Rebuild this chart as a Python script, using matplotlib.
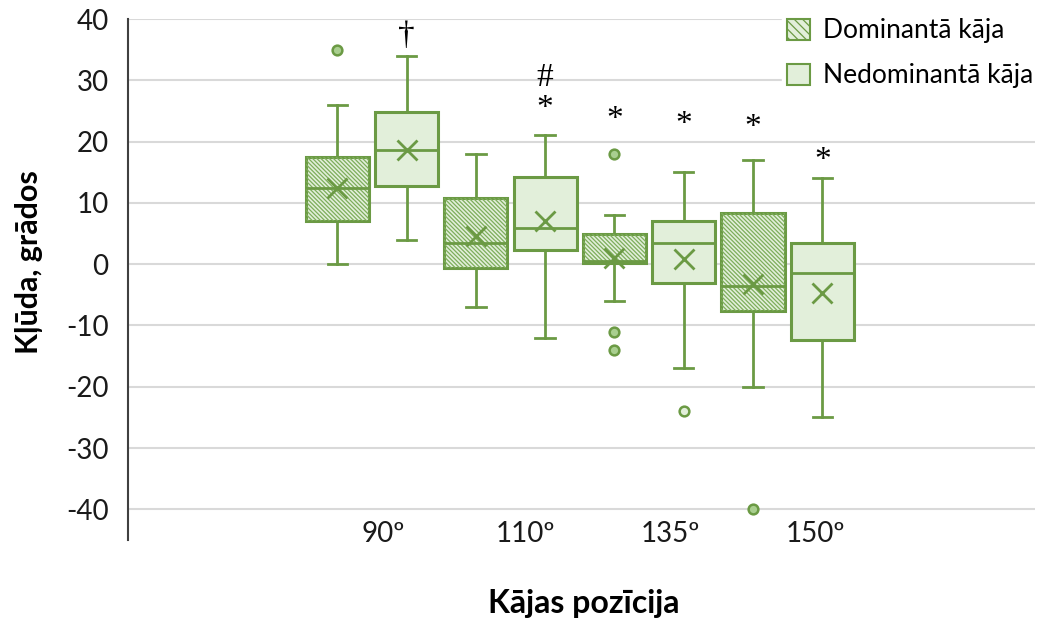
import matplotlib
matplotlib.use('Agg')
import matplotlib.pyplot as plt
from matplotlib.patches import Patch, PathPatch

plt.rcParams['font.family'] = ['Lato', 'DejaVu Sans']
plt.rcParams['hatch.linewidth'] = 0.9
plt.rcParams['axes.unicode_minus'] = False

# Data (degrees)
categories = ['90º', '110º', '135º', '150º']
series = ['Dominantā kāja', 'Nedominantā kāja']

dom_whislo = [0, -7, -6, -20]
dom_q1 = [7, -0.7, 0.2, -7.6]
dom_med = [12.5, 3.5, 0.5, -3.6]
dom_q3 = [17.5, 10.8, 5.0, 8.3]
dom_whishi = [26, 18, 8, 17]
dom_mean = [12.5, 4.6, 1.0, -3.2]
dom_fliers = [[35], [], [18, -11, -14], [-40]]

nd_whislo = [4, -12, -17, -25]
nd_q1 = [12.8, 2.3, -3.0, -12.4]
nd_med = [18.6, 5.9, 3.5, -1.5]
nd_q3 = [24.8, 14.2, 7.0, 3.5]
nd_whishi = [34, 21, 15, 14]
nd_mean = [18.6, 7.1, 0.8, -4.7]
nd_fliers = [[], [], [-24], []]

# significance marks: (box index, symbol, y of the text anchor)
annot_box = [1, 3, 3, 4, 5, 6, 7]
annot_text = ['†', '#', '*', '*', '*', '*', '*']
annot_y = [37.2, 30.4, 25.3, 23.5, 22.7, 22.2, 16.8]

EDGE = '#6b9a44'
LIGHT = '#e2efda'
HATCH = '#7dad5b'


def make_stats(lo, q1, med, q3, hi, mean, fl):
    return [dict(whislo=a, q1=b, med=c, q3=d, whishi=e, mean=f, fliers=g)
            for a, b, c, d, e, f, g in zip(lo, q1, med, q3, hi, mean, fl)]


dom_stats = make_stats(dom_whislo, dom_q1, dom_med, dom_q3, dom_whishi, dom_mean, dom_fliers)
nd_stats = make_stats(nd_whislo, nd_q1, nd_med, nd_q3, nd_whishi, nd_mean, nd_fliers)

fig = plt.figure(figsize=(10.39, 6.21), dpi=100)
ax = fig.add_axes([128 / 1039, 1 - 540 / 621, 907 / 1039, 521 / 621])

n = len(categories)
dom_pos = [2 * i for i in range(n)]
nd_pos = [2 * i + 1 for i in range(n)]


def draw(stats, pos, flier_face):
    return ax.bxp(stats, positions=pos, widths=0.91, capwidths=0.28,
                  patch_artist=True, showmeans=True,
                  boxprops=dict(facecolor=LIGHT, edgecolor=EDGE, linewidth=2.2),
                  medianprops=dict(color=EDGE, linewidth=2),
                  whiskerprops=dict(color=EDGE, linewidth=2),
                  capprops=dict(color=EDGE, linewidth=2),
                  meanprops=dict(marker='x', markersize=15, markeredgewidth=2,
                                 markeredgecolor=EDGE),
                  flierprops=dict(marker='o', markersize=7, markerfacecolor=flier_face,
                                  markeredgecolor=EDGE, markeredgewidth=1.8))


res = draw(dom_stats, dom_pos, '#a9cf8f')
# hatch overlay for the dominant-leg boxes (lighter lines than the outline)
for b in res['boxes']:
    ov = PathPatch(b.get_path(), transform=b.get_transform(), facecolor='none',
                   edgecolor=HATCH, linewidth=0, hatch='\\\\\\\\\\\\\\\\',
                   zorder=b.get_zorder() + 0.01)
    ax.add_patch(ov)
draw(nd_stats, nd_pos, LIGHT)

for i, t, y in zip(annot_box, annot_text, annot_y):
    ax.text(i, y, t, ha='center', va='center', fontsize=24,
            family=['Liberation Serif', 'DejaVu Serif'], color='black')

ax.set_xlim(-3.02, 10.07)
ax.set_ylim(-45, 40)
ax.set_yticks(range(-40, 41, 10))
ax.yaxis.grid(True, color='#d9d9d9', linewidth=1.5)
ax.set_axisbelow(True)
for s in ['top', 'right', 'bottom']:
    ax.spines[s].set_visible(False)
ax.spines['left'].set_color('#404040')
ax.spines['left'].set_linewidth(1.5)
ax.tick_params(axis='y', length=0, pad=14, labelsize=20, labelcolor='#1a1a1a')

ax.set_xticks([0.66, 2.71, 4.81, 6.9], categories)
ax.tick_params(axis='x', length=0, pad=-14, labelsize=20, labelcolor='#1a1a1a')

ax.set_ylabel('Kļūda, grādos', fontsize=22, fontweight='bold')
ax.yaxis.set_label_coords(-0.094, 0.534)
ax.set_xlabel('Kājas pozīcija', fontsize=23, fontweight='bold')
ax.xaxis.set_label_coords(0.502, -0.095)

handles = [Patch(facecolor=LIGHT, edgecolor=EDGE, hatch='\\\\\\\\', linewidth=1.5),
           Patch(facecolor=LIGHT, edgecolor=EDGE, linewidth=1.5)]
leg = fig.legend(handles, series, loc='upper right', bbox_to_anchor=(1.012, 1.0),
                 fontsize=19, frameon=True, fancybox=False, framealpha=1,
                 edgecolor='white', handlelength=0.85, handleheight=0.85,
                 handletextpad=0.5, labelspacing=0.75, borderpad=0.2)

fig.savefig('out.png', dpi=100)
